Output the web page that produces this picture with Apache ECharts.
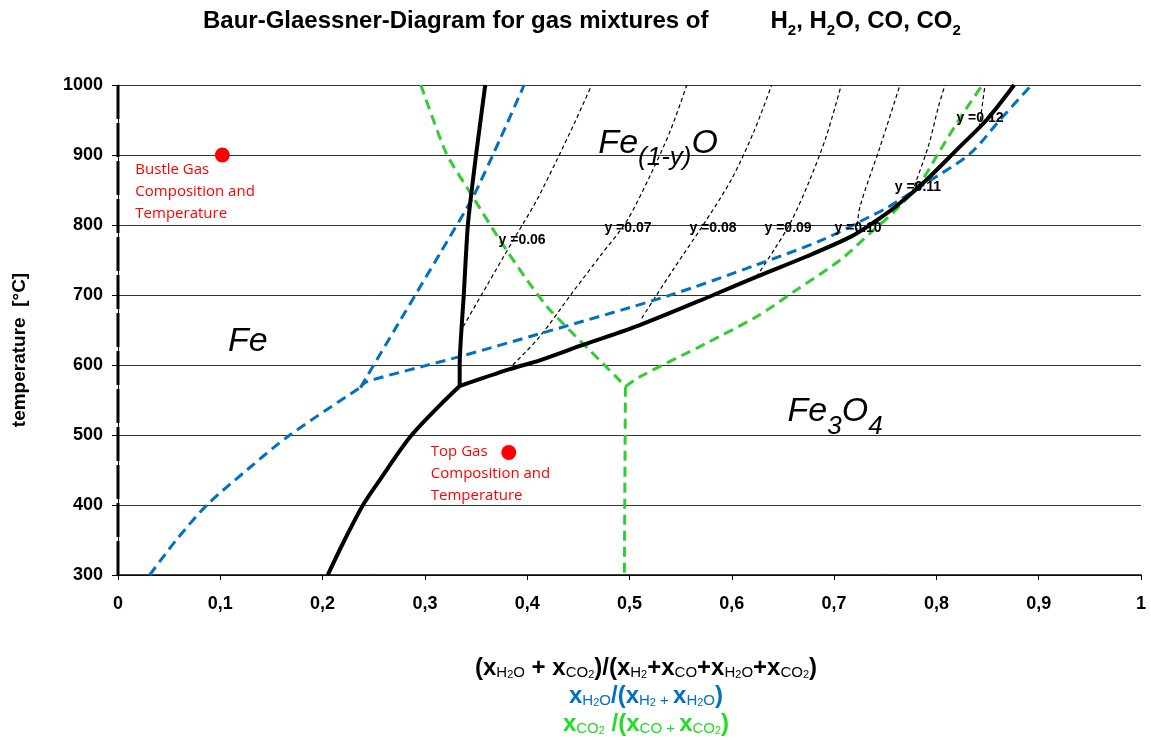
<!DOCTYPE html>
<html>
<head>
<meta charset="utf-8">
<script src="https://cdn.jsdelivr.net/npm/echarts@6/dist/echarts.min.js"></script>
<style>
html, body { margin: 0; padding: 0; background: #ffffff; }
#chart { width: 1151px; height: 740px; }
</style>
</head>
<body>
<div id="chart"></div>
<script>
// Baur-Glaessner diagram: phase boundaries of Fe / Fe(1-y)O / Fe3O4 in H2-H2O and CO-CO2 gas
// x = oxidising fraction of the gas, y = temperature in °C

// black solid: combined boundaries [x, T]
const solidFeFe3O4 = [[0.205, 300], [0.2215, 350], [0.2395, 400], [0.256, 436], [0.2855, 497], [0.315, 543], [0.334, 570]];
const solidFeFeO = [[0.334, 570], [0.334, 600], [0.338, 700], [0.342, 800], [0.350, 900], [0.359, 1000]];
const solidFeOFe3O4 = [[0.334, 570], [0.383, 594], [0.413, 607], [0.455, 629], [0.510, 657], [0.582, 700], [0.624, 726], [0.673, 755], [0.716, 783], [0.740, 805], [0.760, 826], [0.790, 864], [0.823, 912], [0.849, 950], [0.876, 1000]];

// blue dashed: H2 / H2O equilibria
const h2FeFe3O4 = [[0.031, 300], [0.057, 350], [0.087, 400], [0.126, 450], [0.168, 500], [0.237, 568]];
const h2FeFeO = [[0.237, 568], [0.276, 664], [0.315, 760], [0.347, 840], [0.373, 921], [0.397, 1000]];
const h2FeOFe3O4 = [[0.237, 568], [0.243, 576], [0.298, 598], [0.334, 612], [0.413, 645], [0.536, 698], [0.624, 743], [0.689, 779], [0.735, 812], [0.751, 824], [0.790, 860], [0.833, 902], [0.862, 950], [0.893, 1000]];

// green dashed: CO / CO2 equilibria
const coFeFeO = [[0.296, 1000], [0.321, 902], [0.347, 840], [0.373, 779], [0.400, 721], [0.422, 679], [0.487, 583], [0.496, 569]];
const coFeFe3O4 = [[0.496, 569], [0.495, 300]];
const coFeOFe3O4 = [[0.496, 569], [0.510, 583], [0.575, 631], [0.624, 669], [0.663, 707], [0.706, 750], [0.735, 788], [0.760, 821], [0.785, 862], [0.805, 910], [0.825, 957], [0.845, 1000]];

// thin dashed lines of constant wuestite composition y
const iso06 = [[0.3375, 655], [0.360, 712], [0.385, 775], [0.408, 832], [0.428, 890], [0.446, 945], [0.463, 1000]];
const iso07 = [[0.386, 600], [0.4125, 641], [0.445, 705], [0.472, 757], [0.497, 805], [0.520, 870], [0.540, 935], [0.556, 1000]];
const iso08 = [[0.512, 667], [0.543, 737], [0.572, 800], [0.600, 866], [0.622, 935], [0.639, 1000]];
const iso09 = [[0.624, 726], [0.642, 766], [0.658, 805], [0.675, 860], [0.692, 925], [0.707, 1000]];
const iso10 = [[0.722, 790], [0.7253, 826], [0.745, 912], [0.7644, 1000]];
const iso11 = [[0.776, 846], [0.792, 912], [0.802, 969], [0.8084, 1000]];
const iso12 = [[0.842, 940], [0.8475, 1000]];

const isoLabels = ['y =0.06', 'y =0.07', 'y =0.08', 'y =0.09', 'y =0.10', 'y =0.11', 'y =0.12'];
const isoLabelX = [0.395, 0.4985, 0.5816, 0.655, 0.7234, 0.782, 0.8426];
const isoLabelT = [779, 796, 796, 796, 796, 854, 953];

// phase field names
const phaseNames = ['Fe', 'Fe(1-y)O', 'Fe3O4'];
const phaseRich = ['{m|Fe}', '{m|Fe}{s|(1-y)}{m|O}', '{m|Fe}{s|3}{m|O}{s|4}'];
const phaseX = [0.127, 0.528, 0.701];
const phaseT = [630, 909, 526];

// measured gas states
const gasPoints = [[0.102, 900], [0.382, 475]];
const gasNames = ['Bustle Gas\nComposition and\nTemperature', 'Top Gas\nComposition and\nTemperature'];

// axis ticks
const xMin = 0, xMax = 1, xStep = 0.1;
const tMin = 300, tMax = 1000, tStep = 100;

const FONT = 'Liberation Sans, Arial, sans-serif';
const BLUE = '#0070C0';
const GREEN = '#33CC33';

function line(name, data, color, width, type, smooth, z) {
  return {
    name: name, type: 'line', data: data, showSymbol: false, symbol: 'none',
    smooth: smooth, silent: true, z: z,
    lineStyle: { color: color, width: width, type: type, cap: 'butt' }
  };
}

const chart = echarts.init(document.getElementById('chart'), null, { renderer: 'canvas' });

const series = [];
[iso06, iso07, iso08, iso09, iso10, iso11, iso12].forEach(function (d, i) {
  series.push(line('iso' + i, d, '#000000', 1.2, [4, 3], 0.3, 2));
});
series.push(line('H2 Fe/Fe3O4', h2FeFe3O4, BLUE, 3, [10, 6], 0.3, 3));
series.push(line('H2 Fe/FeO', h2FeFeO, BLUE, 3, [10, 6], 0.2, 3));
series.push(line('H2 FeO/Fe3O4', h2FeOFe3O4, BLUE, 3, [10, 6], 0.3, 3));
series.push(line('CO Fe/FeO', coFeFeO, GREEN, 3, [10, 6], 0.2, 3));
series.push(line('CO Fe/Fe3O4', coFeFe3O4, GREEN, 3, [10, 6], false, 3));
series.push(line('CO FeO/Fe3O4', coFeOFe3O4, GREEN, 3, [10, 6], 0.3, 3));
series.push(line('Fe/Fe3O4', solidFeFe3O4, '#000000', 4, 'solid', 0.3, 4));
series.push(line('Fe/FeO', solidFeFeO, '#000000', 4, 'solid', 0.2, 4));
series.push(line('FeO/Fe3O4', solidFeOFe3O4, '#000000', 4, 'solid', 0.3, 4));
// heavy dashed edge along x = 0
series.push(line('edge', [[0, tMin], [0, tMax]], '#000000', 3, [34, 4], false, 5));

// labels of the constant-y lines
series.push({
  name: 'isoLabels', type: 'scatter', silent: true, z: 6,
  symbolSize: 1, itemStyle: { color: 'rgba(0,0,0,0)', opacity: 1 },
  data: isoLabels.map(function (t, i) { return { name: t, value: [isoLabelX[i], isoLabelT[i]] }; }),
  label: {
    show: true, position: 'inside', formatter: '{b}',
    color: '#000', fontFamily: FONT, fontWeight: 'bold', fontSize: 14, textBorderWidth: 0
  }
});

// phase field names
series.push({
  name: 'phases', type: 'scatter', silent: true, z: 6,
  symbolSize: 1, itemStyle: { color: 'rgba(0,0,0,0)', opacity: 1 },
  data: phaseNames.map(function (t, i) {
    return { name: t, value: [phaseX[i], phaseT[i]], label: { formatter: phaseRich[i] } };
  }),
  label: {
    show: true, position: 'inside', color: '#000', textBorderWidth: 0,
    rich: {
      m: { fontFamily: FONT, fontStyle: 'italic', fontSize: 34, color: '#000', lineHeight: 38, verticalAlign: 'top' },
      s: { fontFamily: FONT, fontStyle: 'italic', fontSize: 26, color: '#000', lineHeight: 45, verticalAlign: 'bottom' }
    }
  }
});

// gas states
series.push({
  name: 'gas', type: 'scatter', z: 7, symbolSize: 15,
  itemStyle: { color: '#FF0000', opacity: 1 },
  data: gasPoints.map(function (p, i) {
    return {
      name: gasNames[i], value: p,
      label: { position: i === 0 ? [-79.5, 44] : [-70.5, 29.2] }
    };
  }),
  label: {
    show: true, formatter: '{b}', align: 'left', verticalAlign: 'middle',
    color: '#FF0000', fontFamily: 'Open Sans, sans-serif', fontSize: 15, lineHeight: 22
  }
});

function big(color) { return { fontFamily: FONT, fontWeight: 'bold', fontSize: 24, lineHeight: 29, verticalAlign: 'bottom', color: color, fill: color }; }
function sub(color) { return { fontFamily: FONT, fontSize: 15, lineHeight: 18, verticalAlign: 'bottom', color: color, fill: color }; }
function sub2(color) { return { fontFamily: FONT, fontSize: 11, lineHeight: 11, verticalAlign: 'bottom', color: color, fill: color }; }
function richSet(color) { return { b: big(color), s: sub(color), t: sub2(color) }; }

chart.setOption({
  animation: false,
  backgroundColor: '#ffffff',
  title: {
    left: 203, top: 9, padding: 0,
    text: '{b|Baur-Glaessner-Diagram for gas mixtures of}{g| }{b|H}{s|2}{b|, H}{s|2}{b|O, CO, CO}{s|2}',
    textStyle: {
      rich: {
        b: { fontFamily: FONT, fontWeight: 'bold', fontSize: 24, color: '#000', lineHeight: 28, verticalAlign: 'top' },
        s: { fontFamily: FONT, fontWeight: 'bold', fontSize: 15, color: '#000', lineHeight: 29, verticalAlign: 'bottom' },
        g: { fontFamily: FONT, fontSize: 24, width: 62, lineHeight: 28, verticalAlign: 'top' }
      }
    }
  },
  grid: { left: 118, right: 10, top: 85, bottom: 165, containLabel: false },
  xAxis: {
    type: 'value', min: xMin, max: xMax, interval: xStep,
    axisLine: { show: true, onZero: false, lineStyle: { color: '#000', width: 1.5 } },
    axisTick: { show: true, inside: false, length: 5, lineStyle: { color: '#000' } },
    splitLine: { show: false },
    axisLabel: {
      margin: 20, color: '#000', fontFamily: FONT, fontWeight: 'bold', fontSize: 18,
      formatter: function (v) { return String(Math.round(v * 10) / 10).replace('.', ','); }
    }
  },
  yAxis: {
    type: 'value', min: tMin, max: tMax, interval: tStep,
    axisLine: { show: true, lineStyle: { color: '#000', width: 1 } },
    axisTick: { show: true, inside: false, length: 6, lineStyle: { color: '#000' } },
    splitLine: { show: true, lineStyle: { color: '#333333', width: 1 } },
    axisLabel: {
      margin: 15, color: '#000', fontFamily: FONT, fontWeight: 'bold', fontSize: 18,
      formatter: function (v) { return String(v); }
    }
  },
  graphic: [
    {
      type: 'text', x: 20, y: 350, rotation: Math.PI / 2,
      style: { text: 'temperature  [°C]', font: 'bold 19px ' + FONT, fill: '#000', align: 'center', verticalAlign: 'middle' }
    },
    {
      type: 'text', x: 646, y: 666,
      style: {
        text: '{b|(x}{s|H}{t|2}{s|O}{b| + x}{s|CO}{t|2}{b|)/(x}{s|H}{t|2}{b|+x}{s|CO}{b|+x}{s|H}{t|2}{s|O}{b|+x}{s|CO}{t|2}{b|)}',
        fill: '#000000', align: 'center', verticalAlign: 'middle', rich: richSet('#000000')
      }
    },
    {
      type: 'text', x: 646, y: 694,
      style: {
        text: '{b|x}{s|H}{t|2}{s|O}{b|/(x}{s|H}{t|2}{s| + }{b|x}{s|H}{t|2}{s|O}{b|)}',
        fill: BLUE, align: 'center', verticalAlign: 'middle', rich: richSet(BLUE)
      }
    },
    {
      type: 'text', x: 646, y: 722,
      style: {
        text: '{b|x}{s|CO}{t|2}{b| /(x}{s|CO}{s| + }{b|x}{s|CO}{t|2}{b|)}',
        fill: '#22DD22', align: 'center', verticalAlign: 'middle', rich: richSet('#22DD22')
      }
    }
  ],
  series: series
});
</script>
</body>
</html>
